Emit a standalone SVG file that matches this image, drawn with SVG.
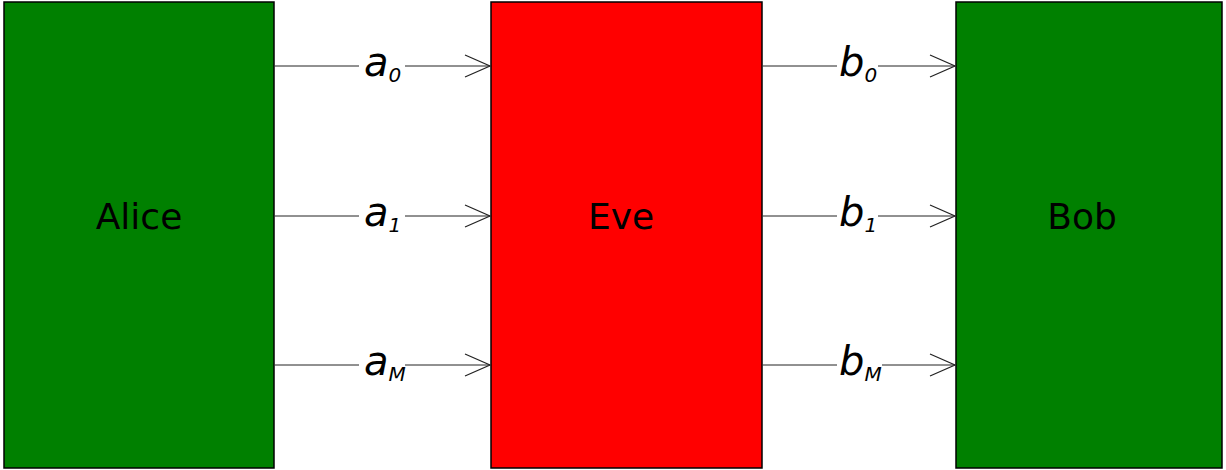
<svg xmlns="http://www.w3.org/2000/svg" width="1226" height="470" viewBox="0 0 1226 470">
  <style>
    .box { stroke: #000; stroke-width: 1.5; }
    .name { font-family: "DejaVu Sans", sans-serif; font-size: 36px; fill: #000; text-anchor: middle; dominant-baseline: central; }
    .conn { fill: none; stroke: #222; stroke-width: 1; }
    .lbl { font-family: "DejaVu Sans", sans-serif; font-style: italic; font-size: 40px; fill: #000; }
    .sub { font-size: 20px; }
  </style>
  <defs>
    <marker id="arr" markerUnits="userSpaceOnUse" markerWidth="30" markerHeight="26" viewBox="-27 -13 30 26" refX="0" refY="0" orient="auto" overflow="visible">
      <path d="M -25 -11 L 0 0 L -25 11" fill="none" stroke="#222" stroke-width="1.2"/>
    </marker>
  </defs>
  <g id="alice">
    <rect class="box" x="4" y="2" width="270" height="466" fill="#008000"/>
    <text class="name" x="139" y="216">Alice</text>
  </g>
  <g id="eve">
    <rect class="box" x="491" y="2" width="271" height="466" fill="#ff0000"/>
    <text class="name" x="621" y="216">Eve</text>
  </g>
  <g id="bob">
    <rect class="box" x="956" y="2" width="266" height="466" fill="#008000"/>
    <text class="name" x="1082" y="216">Bob</text>
  </g>
  <g id="connectors">
    <path class="conn" d="M274.5 66 H359 M405 66 H490" marker-end="url(#arr)"/>
    <path class="conn" d="M274.5 216 H359 M405 216 H490" marker-end="url(#arr)"/>
    <path class="conn" d="M274.5 365 H359 M405 365 H490" marker-end="url(#arr)"/>
    <path class="conn" d="M762.5 66 H837 M878 66 H955" marker-end="url(#arr)"/>
    <path class="conn" d="M762.5 216 H837 M878 216 H955" marker-end="url(#arr)"/>
    <path class="conn" d="M762.5 365 H837 M882 365 H955" marker-end="url(#arr)"/>
    <text class="lbl" x="364" y="76">a<tspan class="sub" dy="6">0</tspan></text>
    <text class="lbl" x="364" y="226">a<tspan class="sub" dy="6">1</tspan></text>
    <text class="lbl" x="364" y="375">a<tspan class="sub" dy="6">M</tspan></text>
    <text class="lbl" x="839" y="76">b<tspan class="sub" dy="6">0</tspan></text>
    <text class="lbl" x="839" y="226">b<tspan class="sub" dy="6">1</tspan></text>
    <text class="lbl" x="839" y="375">b<tspan class="sub" dy="6">M</tspan></text>
  </g>
</svg>
